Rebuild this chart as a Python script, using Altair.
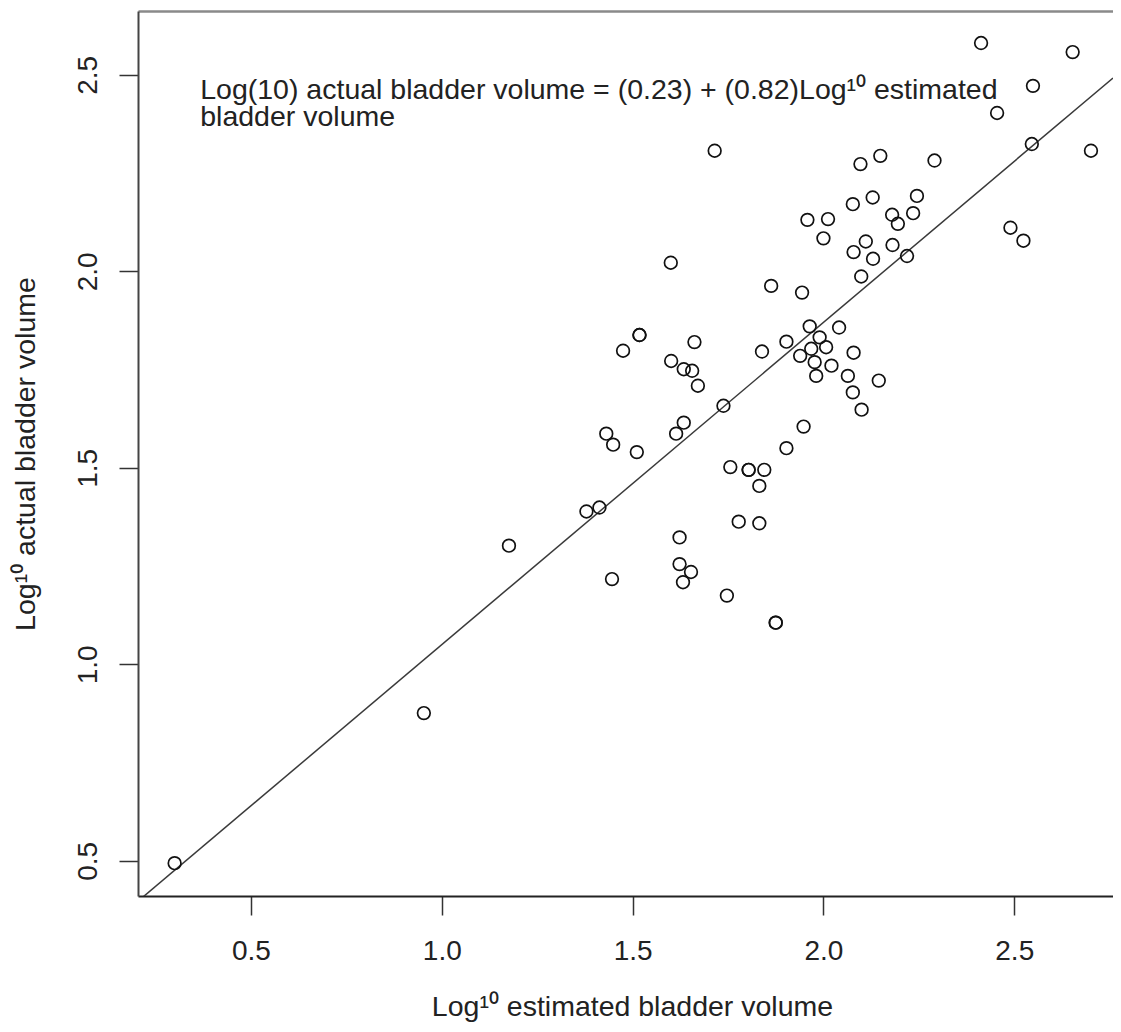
import altair as alt
import pandas as pd

# ---- data ----
x_est = [2.413, 2.653, 2.549, 2.455, 2.546, 2.701, 1.715, 2.097, 2.149, 2.291,
         2.077, 2.129, 2.245, 1.958, 2.012, 2.000, 2.180, 2.195, 2.235, 2.111,
         2.079, 2.130, 2.181, 2.219, 2.099, 1.863, 1.944, 2.490, 2.524, 1.600,
         1.518, 1.518, 1.475, 1.662, 1.601, 1.634, 1.656, 1.671,
         1.839, 1.903, 1.964, 2.041, 1.990, 1.968, 2.007, 1.939, 1.977, 2.021, 1.981,
         2.079, 2.064, 2.077, 2.145, 2.100, 1.738, 1.948, 1.903,
         1.634, 1.614, 1.431, 1.449, 1.511, 1.756, 1.804, 1.804, 1.845, 1.832,
         1.379, 1.413, 1.778, 1.832, 1.623, 1.623, 1.653, 1.632, 1.446, 1.747, 1.875, 1.875,
         1.176, 0.953, 0.300]

y_act = [2.581, 2.558, 2.472, 2.403, 2.324, 2.307, 2.307, 2.273, 2.294, 2.282,
         2.171, 2.188, 2.192, 2.131, 2.133, 2.084, 2.144, 2.121, 2.148, 2.076,
         2.049, 2.032, 2.067, 2.039, 1.987, 1.963, 1.946, 2.111, 2.078, 2.022,
         1.838, 1.838, 1.798, 1.820, 1.772, 1.751, 1.747, 1.709,
         1.796, 1.821, 1.860, 1.857, 1.832, 1.803, 1.807, 1.785, 1.769, 1.760, 1.734,
         1.793, 1.734, 1.692, 1.722, 1.648, 1.658, 1.605, 1.550,
         1.615, 1.587, 1.587, 1.559, 1.540, 1.502, 1.495, 1.495, 1.495, 1.454,
         1.389, 1.399, 1.363, 1.359, 1.323, 1.255, 1.235, 1.209, 1.217, 1.175, 1.106, 1.106,
         1.302, 0.876, 0.494]

INTERCEPT = 0.23
SLOPE = 0.82

X_DOMAIN = [0.204, 2.7587]
Y_DOMAIN = [0.4105, 2.6625]
X_TICKS = [0.5, 1.0, 1.5, 2.0, 2.5]
Y_TICKS = [0.5, 1.0, 1.5, 2.0, 2.5]

X_TITLE = "Log\u00b9\u2070 estimated bladder volume"
Y_TITLE = "Log\u00b9\u2070 actual bladder volume"
EQUATION_LINES = ["Log(10) actual bladder volume = (0.23) + (0.82)Log\u00b9\u2070 estimated",
                  "bladder volume"]
EQ_X = [0.367]
EQ_Y = [2.4377]

FONT = "'Liberation Sans', 'Noto Sans', Arial, sans-serif"
INK = "#222222"

pts = pd.DataFrame({"x": x_est, "y": y_act})
xs = alt.Scale(domain=X_DOMAIN, nice=False, zero=False)
ys = alt.Scale(domain=Y_DOMAIN, nice=False, zero=False)

# top frame line (as a label-less top axis)
top = alt.Chart(pd.DataFrame({"x": X_DOMAIN})).mark_point(opacity=0).encode(
    x=alt.X("x:Q", scale=xs,
            axis=alt.Axis(orient="top", labels=False, ticks=False, title="",
                          grid=False, domainColor="#8a8a8a", domainWidth=2.5))
)

reg = alt.Chart(pd.DataFrame({"x": X_DOMAIN})).transform_calculate(
    y=f"{INTERCEPT} + {SLOPE} * datum.x"
).mark_line(color="#3a3a3a", strokeWidth=1.5, clip=True).encode(
    x=alt.X("x:Q", scale=xs, axis=None),
    y=alt.Y("y:Q", scale=ys, axis=None),
)

points = alt.Chart(pts).mark_point(
    shape="circle", filled=False, size=160, color="#111111", strokeWidth=1.7, opacity=1
).encode(
    x=alt.X("x:Q", scale=xs,
            axis=alt.Axis(values=X_TICKS, format=".1f", title=X_TITLE, grid=False,
                          tickSize=19, tickWidth=1.5, tickColor="#333333",
                          domainColor="#222222", domainWidth=2,
                          labelFont=FONT, labelFontSize=28, labelColor=INK,
                          labelBaseline="alphabetic", labelPadding=44,
                          labelFlush=False, labelOverlap=False,
                          titleFont=FONT, titleFontSize=28.5, titleFontWeight="normal",
                          titleColor=INK, titleBaseline="alphabetic",
                          titleX=494, titleY=119)),
    y=alt.Y("y:Q", scale=ys,
            axis=alt.Axis(values=Y_TICKS, format=".1f", title=Y_TITLE, grid=False,
                          tickSize=19, tickWidth=1.5, tickColor="#333333",
                          domainColor="#444444", domainWidth=2,
                          labelFont=FONT, labelFontSize=28, labelColor=INK,
                          labelAngle=270, labelAlign="center",
                          labelBaseline="alphabetic", labelPadding=23,
                          labelFlush=False, labelOverlap=False,
                          titleFont=FONT, titleFontSize=28.5, titleFontWeight="normal",
                          titleColor=INK, titleAngle=270, titleAlign="center",
                          titleBaseline="alphabetic", titleX=-104, titleY=442.5)),
)

eq = alt.Chart(pd.DataFrame({"x": EQ_X, "y": EQ_Y, "t": ["\n".join(EQUATION_LINES)]})).mark_text(
    align="left", baseline="alphabetic", font=FONT, fontSize=28.5, lineHeight=27,
    lineBreak="\n", color=INK
).encode(
    x=alt.X("x:Q", scale=xs, axis=None),
    y=alt.Y("y:Q", scale=ys, axis=None),
    text="t:N",
)

chart = alt.layer(top, reg, points, eq).resolve_axis(x="independent", y="independent").properties(
    width=975, height=885,
    autosize=alt.AutoSizeParams(type="none"),
    padding={"left": 130, "top": 3, "right": 0, "bottom": 128},
    background="white",
).configure_view(strokeWidth=0)

chart.save("out.html", embed_options={"renderer": "svg", "actions": False})
